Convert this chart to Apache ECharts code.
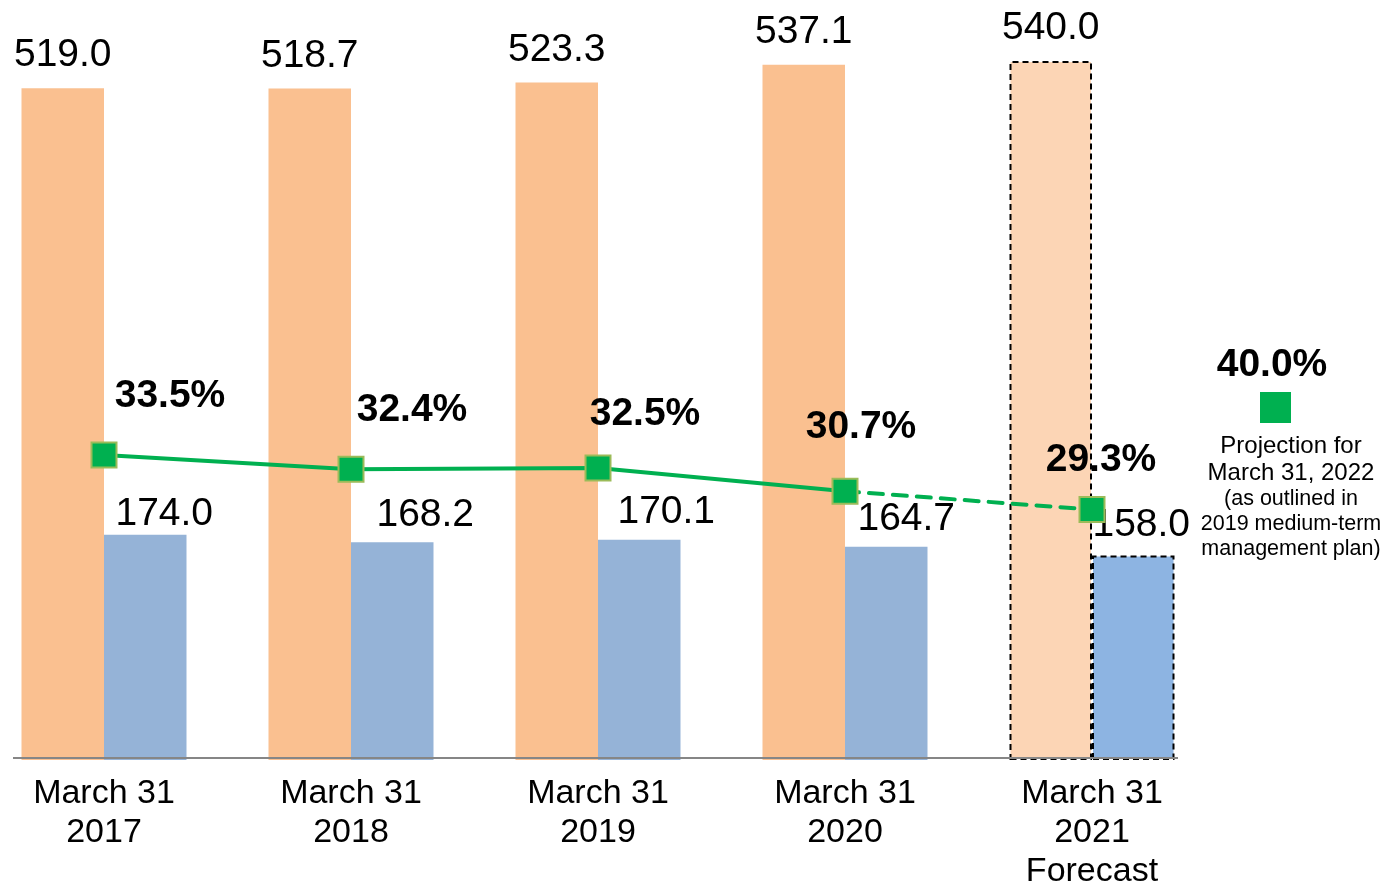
<!DOCTYPE html>
<html>
<head>
<meta charset="utf-8">
<title>Ratio chart</title>
<script src="https://cdn.jsdelivr.net/npm/echarts@6/dist/echarts.min.js"></script>
<style>
  html, body { margin: 0; padding: 0; background: #fff; }
  #chart { width: 1392px; height: 883px; }
</style>
</head>
<body>
<div id="chart"></div>
<script>
// data
const categories = ['March 31\n2017', 'March 31\n2018', 'March 31\n2019', 'March 31\n2020', 'March 31\n2021\nForecast']
const totalValues = [519.0, 518.7, 523.3, 537.1, 540.0]
const partValues = [174.0, 168.2, 170.1, 164.7, 158.0]
const ratioValues = [33.5, 32.4, 32.5, 30.7, 29.3]
const forecastIndex = 4
const projectionValue = 40.0
const projectionLines = ['Projection for', 'March 31, 2022', '(as outlined in', '2019 medium-term', 'management plan)']

// label nudges, like the hand-placed labels of the original
const partLabelShift = [[19, 12], [33, 5], [27, 5], [20, 5], [8, 2]]
const ratioLabelShift = [[66, -59], [61, -59], [47, -54], [16, -64], [9, -49]]

const FONT = "'Liberation Sans', Arial, sans-serif"
const GREEN = '#00B050'

const chart = echarts.init(document.getElementById('chart'))

const dashedBorder = { borderColor: '#000', borderWidth: 2, borderType: [6, 4] }

const totalData = totalValues.map((v, i) =>
  i === forecastIndex
    ? { value: v, itemStyle: { color: '#FCD5B5', ...dashedBorder } }
    : v
)

const partData = partValues.map((v, i) => {
  const item = {
    value: v,
    label: { offset: partLabelShift[i] }
  }
  if (i === forecastIndex) item.itemStyle = { color: '#8DB4E2', ...dashedBorder }
  return item
})

const marker = {
  symbol: 'rect',
  symbolSize: 25,
  itemStyle: { color: GREEN, borderColor: '#9BBB59', borderWidth: 2 }
}

const ratioLabel = i => ({
  show: true,
  position: 'inside',
  offset: ratioLabelShift[i],
  formatter: p => p.value.toFixed(1) + '%',
  fontFamily: FONT,
  fontSize: 39,
  fontWeight: 'bold',
  color: '#000'
})

// solid part (actuals) and dashed part (to forecast)
const solidData = ratioValues.map((v, i) =>
  i < forecastIndex ? { value: v, label: ratioLabel(i) } : '-'
)
const dashedData = ratioValues.map((v, i) => {
  if (i === forecastIndex) return { value: v, label: ratioLabel(i) }
  if (i === forecastIndex - 1) return { value: v, symbol: 'none' }
  return '-'
})

const barLabel = {
  show: true,
  position: 'top',
  distance: 13,
  formatter: p => p.value.toFixed(1),
  fontFamily: FONT,
  fontSize: 39,
  lineHeight: 39,
  color: '#000'
}

const option = {
  backgroundColor: '#fff',
  animation: false,
  grid: { outerBoundsMode: 'none', containLabel: false, left: -19.5, right: 176.5, top: 61, bottom: 123 },
  xAxis: {
    type: 'category',
    data: categories,
    axisLine: { show: false },
    axisTick: { show: false },
    axisLabel: {
      margin: 14,
      fontFamily: FONT,
      fontSize: 34,
      lineHeight: 39,
      color: '#000',
      verticalAlign: 'top'
    }
  },
  yAxis: [
    { type: 'value', min: 0, max: 540, show: false },
    { type: 'value', min: 10, max: 63.85, show: false }
  ],
  series: [
    {
      type: 'bar',
      data: totalData,
      barWidth: 82.5,
      barGap: '0%',
      itemStyle: { color: '#FAC090' },
      label: barLabel
    },
    {
      type: 'bar',
      data: partData,
      barWidth: 82.5,
      barGap: '0%',
      itemStyle: { color: '#95B3D7' },
      label: barLabel
    },
    {
      type: 'line',
      yAxisIndex: 1,
      data: solidData,
      ...marker,
      lineStyle: { color: GREEN, width: 4 },
      z: 4
    },
    {
      type: 'line',
      yAxisIndex: 1,
      data: dashedData,
      ...marker,
      lineStyle: { color: GREEN, width: 4, type: [14, 10], cap: 'round' },
      z: 3
    }
  ],
  graphic: [
    {
      type: 'line',
      z: 10,
      shape: { x1: 13, y1: 758, x2: 1178, y2: 758 },
      style: { stroke: '#868686', lineWidth: 2 }
    },
    {
      type: 'text',
      x: 1272,
      y: 365,
      style: {
        text: projectionValue.toFixed(1) + '%',
        font: `bold 39px ${FONT}`,
        fill: '#000',
        align: 'center',
        verticalAlign: 'middle'
      }
    },
    {
      type: 'rect',
      shape: { x: 1260, y: 392, width: 31, height: 31 },
      style: { fill: GREEN }
    },
    {
      type: 'text',
      x: 1291,
      y: 433,
      style: {
        text: projectionLines.map((t, i) => `{${i < 2 ? 'a' : 'b'}|${t}}`).join('\n'),
        align: 'center',
        verticalAlign: 'top',
        fill: '#000',
        rich: {
          a: { fontFamily: FONT, fontSize: 24, lineHeight: 27, fill: '#000' },
          b: { fontFamily: FONT, fontSize: 21.5, lineHeight: 25, fill: '#000' }
        }
      }
    }
  ]
}

chart.setOption(option)
</script>
</body>
</html>
